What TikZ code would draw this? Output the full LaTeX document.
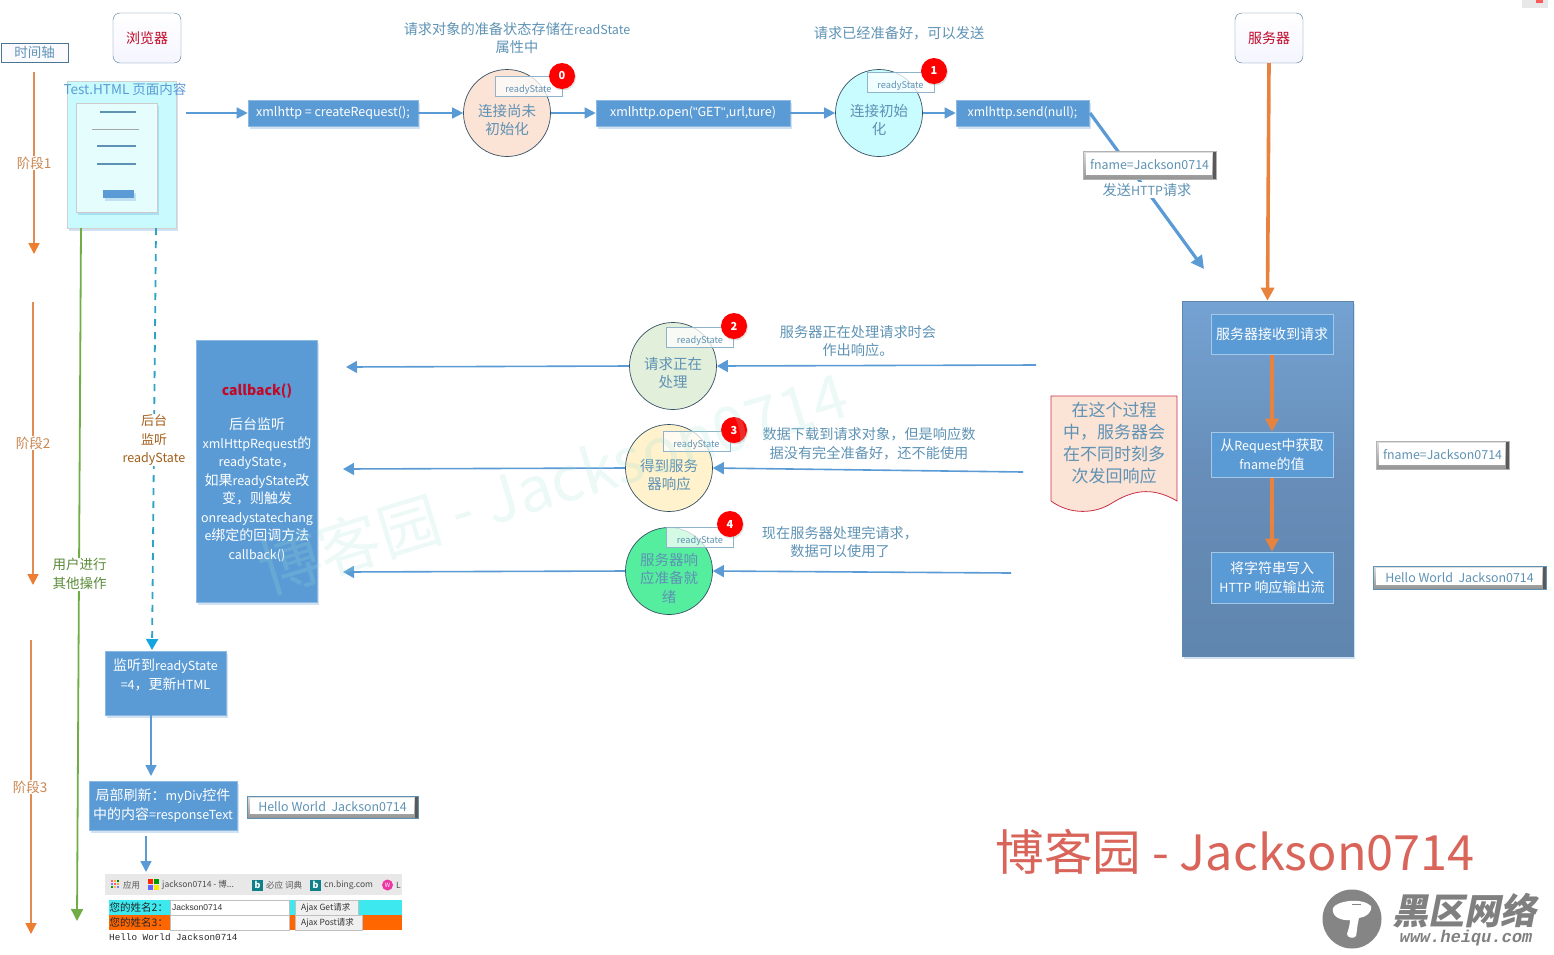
\documentclass[tikz,border=0pt]{standalone}
\usepackage{fontspec}
\setmainfont{Noto Sans CJK SC}
\newfontfamily\monof{Liberation Mono}
\newfontfamily\sansf{Liberation Sans}
\usetikzlibrary{arrows.meta,shadows}
\newcommand\lat[1]{{\fontsize{12.5}{18.5}\selectfont #1}}
\newcommand\rstext{\raisebox{-6.5pt}[0pt][0pt]{readyState}}
\definecolor{bluebox}{HTML}{5B9BD5}
\definecolor{linkblue}{HTML}{5B9BD5}
\definecolor{txtblue}{HTML}{5E92B4}
\definecolor{orangeA}{HTML}{ED7D31}
\definecolor{orangeL}{HTML}{E08D55}
\definecolor{phase}{HTML}{C98650}
\definecolor{greenL}{HTML}{70AD47}
\definecolor{dashB}{HTML}{2FA3C4}
\definecolor{dashT}{HTML}{12A5E0}
\definecolor{wm}{HTML}{9FE0D8}
\definecolor{redtxt}{HTML}{C00A28}
\definecolor{peach}{HTML}{FBE3D6}
\definecolor{paleC}{HTML}{C9FCFF}
\definecolor{paleG}{HTML}{E2EFDA}
\definecolor{paleY}{HTML}{FFF2CC}
\definecolor{mint}{HTML}{55EE9F}
\definecolor{docred}{HTML}{C83048}
\definecolor{sigred}{HTML}{D96459}
\definecolor{pageout}{HTML}{C9FAFD}
\definecolor{pagein}{HTML}{E6FDFE}
\definecolor{srvTop}{HTML}{74A2D2}
\definecolor{srvMid}{HTML}{678DB8}
\definecolor{srvBot}{HTML}{5F86AE}
\definecolor{rowC}{HTML}{3DE8EE}
\definecolor{rowO}{HTML}{FF6600}
\definecolor{tealb}{HTML}{0F8087}
\tikzset{
  softshadow/.style={drop shadow={shadow xshift=1.5pt,shadow yshift=-2.5pt,opacity=.28,fill=bluebox}},
  fs/.style={font=\fontsize{#1}{18.5}\selectfont},
  bluerect/.style={draw=bluebox!70!white,line width=.6pt,fill=bluebox,text=white,align=center,inner sep=0pt,softshadow,fs=14},
  srvrect/.style={draw=white!45!bluebox,line width=1pt,fill=bluebox,text=white,align=center,inner sep=0pt,fs=14},
  headbox/.style={draw=txtblue!80!black,rounded corners=7pt,top color=white,bottom color=blue!4!white,inner sep=0pt,minimum width=68pt,minimum height=50pt,text=redtxt,fs=14},
  statec/.style={circle,draw=black!45!txtblue,line width=.7pt,minimum size=87pt,inner sep=0pt},
  statet/.style={align=center,text=txtblue,inner sep=0pt,fs=14.5},
  rsbox/.style={draw=txtblue!70!white,line width=1pt,fill=white,fill opacity=.75,text opacity=1,text=txtblue,minimum width=67pt,minimum height=20pt,inner sep=0pt,fs=9.2},
  badge/.style={circle,fill=red,text=white,minimum size=26pt,inner sep=0pt,font=\fontsize{11}{11}\selectfont\bfseries,drop shadow={shadow xshift=1pt,shadow yshift=-1.5pt,opacity=.25}},
  note/.style={text=txtblue,align=center,inner sep=0pt,fs=14.2},
  bevel/.style={draw=#1,line width=.6pt,top color=black!12,bottom color=black!42,text=txtblue,inner sep=0pt,fs=12.4,
     path picture={
       \fill[white] ([xshift=3pt,yshift=-2pt]path picture bounding box.north west) rectangle ([xshift=-4pt,yshift=4pt]path picture bounding box.south east);
       \fill[black!65] ([xshift=-3.5pt]path picture bounding box.north east) rectangle (path picture bounding box.south east);}},
  flow/.style={draw=linkblue,line width=1.6pt,-{Triangle[length=11pt,width=11pt]}},
  flowthick/.style={draw=linkblue,line width=3.2pt,-{Triangle[length=13pt,width=13pt]}},
  backflow/.style={draw=linkblue,line width=1.6pt,-{Triangle[length=11pt,width=12pt]}},
  timeline/.style={draw=orangeL,line width=1.8pt,-{Triangle[length=11pt,width=11pt,color=orangeA]}},
  srvarrow/.style={draw=orangeL!40!orangeA,line width=3.6pt,-{Triangle[length=13pt,width=13pt]}},
  phaselabel/.style={fill=white,text=phase,inner sep=1pt,fs=13.5},
}
\begin{document}
\begin{tikzpicture}[x=1pt,y=-1pt]
\useasboundingbox (0,0) rectangle (1554,954);
% corner mark
\fill[black!9] (1522,0) rectangle (1548,8);
\fill[red!65!white] (1536,0) rectangle (1543,2.5);

% header nodes
\node[draw=txtblue!80!black,line width=1pt,fill=blue!2!white,minimum width=67pt,minimum height=19pt,inner sep=0pt,text=txtblue,fs=13.5] (axis) at (34.5,52.5) {时间轴};
\node[headbox] (browser) at (147,38) {浏览器};
\node[headbox] (server) at (1269,38) {服务器};

% time lines
\coordinate (t1a) at (34,72); \coordinate (t1b) at (34,254);
\coordinate (t2a) at (33,302); \coordinate (t2b) at (33,585);
\coordinate (t3a) at (31,640); \coordinate (t3b) at (31,934);
\draw[timeline] (t1a) -- (t1b);
\draw[timeline] (t2a) -- (t2b);
\draw[timeline] (t3a) -- (t3b);
\node[phaselabel] (p1) at (34,163) {阶段1};
\node[phaselabel] (p2) at (33,443) {阶段2};
\node[phaselabel] (p3) at (30,787) {阶段3};

% page
\node[draw=black!18,fill=pageout,minimum width=109pt,minimum height=147pt,inner sep=0pt,softshadow] (page) at (121.5,154.5) {};
\node[draw=black!20,fill=pagein,minimum width=81pt,minimum height=109pt,inner sep=0pt,softshadow] (sheet) at (116.5,157.5) {};
\draw[line width=1.1pt,draw=txtblue] (100,112) -- (136,112);
\draw[line width=.4pt,draw=black!35] (92,129) -- (139,129);
\draw[line width=1.1pt,draw=txtblue] (97,146) -- (136,146);
\draw[line width=1.1pt,draw=txtblue] (97,164) -- (136,164);
\node[fill=bluebox,minimum width=31pt,minimum height=8pt,inner sep=0pt,softshadow] (btn) at (118.5,194) {};
\node[note,text=bluebox,fs=13.5] (pagelabel) at (125,89) {Test.HTML 页面内容};

% long verticals from the page
\coordinate (gA) at (81,228); \coordinate (gB) at (77,921);
\draw[draw=greenL,line width=1.8pt,-{Triangle[length=12pt,width=12pt]}] (gA) -- (gB);
\node[fill=white,text=greenL!80!black,align=center,inner sep=1pt,fs=13.5] (user) at (79.5,574) {用户进行\\其他操作};

% top row
\node[bluerect,fs=12.5,minimum width=170pt,minimum height=26pt] (x1) at (333,113) {xmlhttp = createRequest();};
\node[bluerect,fs=12.5,minimum width=194pt,minimum height=26pt] (x2) at (693,113) {xmlhttp.open({\sansf\char34}GET{\sansf\char34},url,ture)};
\node[bluerect,fs=12.3,minimum width=133pt,minimum height=26pt] (x3) at (1022.5,113) {xmlhttp.send(null);};
\node[statec,fill=peach] (c0) at (507,113) {};
\node[statec,fill=paleC] (c1) at (879,113) {};
\coordinate (a0) at (186,113);
\draw[flow] (a0) -- (x1.west);
\draw[flow] (x1.east) -- (c0.west);
\draw[flow] (c0.east) -- (x2.west);
\draw[flow] (x2.east) -- (c1.west);
\draw[flow] (c1.east) -- (x3.west);
\node[statet] (c0t) at ([yshift=-7pt]c0.center) {连接尚未\\初始化};
\node[statet] (c1t) at ([yshift=-7pt]c1.center) {连接初始\\化};
\node[rsbox] (r0) at (528.5,86) {\rstext};
\node[badge] (b0) at (562,76) {0};
\node[rsbox] (r1) at (900.5,82) {\rstext};
\node[badge] (b1) at (934,71) {1};
\node[note] (n0) at (517,38) {请求对象的准备状态存储在\lat{readState}\\属性中};
\node[note] (n1) at (899,33) {请求已经准备好，可以发送};

% send request
\coordinate (s1) at (1090,113); \coordinate (s2) at (1204,269);
\draw[flowthick] (s1) -- (s2);
\node[bevel=black!30,minimum width=133pt,minimum height=28pt] (f1) at (1149.5,165) {fname=Jackson0714};
\node[fill=white,note,inner sep=1.5pt] (httpl) at (1147,190) {发送\lat{HTTP}请求};

% server
\node[draw=srvBot,line width=.6pt,top color=srvTop,bottom color=srvBot,middle color=srvMid,minimum width=171pt,minimum height=355pt,inner sep=0pt,softshadow] (srv) at (1267.5,478.5) {};
\node[srvrect,minimum width=122pt,minimum height=40pt] (s_a) at (1272,334) {服务器接收到请求};
\node[srvrect,minimum width=122pt,minimum height=45pt] (s_b) at (1272,454.5) {从\lat{Request}中获取\\\lat{fname}的值};
\node[srvrect,minimum width=122pt,minimum height=51pt] (s_c) at (1272,577.5) {将字符串写入\\\lat{HTTP} 响应输出流};
\draw[srvarrow] (server.south) -- (srv.north);
\draw[srvarrow] (s_a.south) -- (s_b.north);
\draw[srvarrow] (s_b.south) -- (s_c.north);
\node[bevel=black!30,minimum width=133pt,minimum height=28pt] (f2) at (1442.5,455) {fname=Jackson0714};
\node[bevel=txtblue,minimum width=173pt,minimum height=23pt] (h1) at (1459.5,577.5) {Hello World\ \ Jackson0714};

% document shape
\path[fill=peach,draw=docred,line width=.8pt]
  (1051,396) -- (1177,396) -- (1177,501) .. controls (1150,485) and (1130,492) .. (1112,503) .. controls (1095,514) and (1070,515) .. (1051,501) -- cycle;
\node[text=txtblue,align=center,inner sep=0pt,font=\fontsize{17}{22}\selectfont] (docn) at (1114,443) {在这个过程\\中，服务器会\\在不同时刻多\\次发回响应};

% states 2-4
\node[statec,fill=paleG] (c2) at (673,366) {};
\node[statec,fill=paleY] (c3) at (669,468) {};
\node[statec,fill=mint] (c4) at (669,571) {};
\coordinate (i2) at (1036,365); \coordinate (o2) at (346,367);
\coordinate (i3) at (1023,472); \coordinate (o3) at (343,469);
\coordinate (i4) at (1011,573); \coordinate (o4) at (343,572);
\draw[backflow] (i2) -- (c2.east);
\draw[backflow] (i3) -- (c3.east);
\draw[backflow] (i4) -- (c4.east);
\draw[backflow] (c2.west) -- (o2);
\draw[backflow] (c3.west) -- (o3);
\draw[backflow] (c4.west) -- (o4);
\node[statet] (c2t) at ([yshift=-7pt]c2.center) {请求正在\\处理};
\node[statet] (c3t) at ([yshift=-7pt]c3.center) {得到服务\\器响应};
\node[statet] (c4t) at ([yshift=-7pt]c4.center) {服务器响\\应准备就\\绪};
\node[rsbox] (r2) at (700,337) {\rstext};
\node[badge] (b2) at (734,326) {2};
\node[rsbox] (r3) at (696.5,441) {\rstext};
\node[badge] (b3) at (734,430) {3};
\node[rsbox] (r4) at (700,537) {\rstext};
\node[badge] (b4) at (730,524) {4};
\node[note] (n2) at (858,341) {服务器正在处理请求时会\\作出响应。};
\node[note] (n3) at (869,443.5) {数据下载到请求对象，但是响应数\\据没有完全准备好，还不能使用};
\node[note] (n4) at (840,542) {现在服务器处理完请求，\\数据可以使用了};

% callback
\node[bluerect,minimum width=121pt,minimum height=262pt] (cb) at (256.5,471) {};
\node[text=redtxt,inner sep=0pt,font=\fontsize{14}{14}\selectfont\bfseries] (cbt) at (257,391) {callback()};
\node[text=white,align=center,inner sep=0pt,font=\fontsize{14}{18.5}\selectfont] (cbb) at (257,490) {后台监听\\\lat{xmlHttpRequest}的\\\lat{readyState}，\\如果\lat{readyState}改\\变，则触发\\\lat{onreadystatechang}\\\lat{e}绑定的回调方法\\\lat{callback()}};

% lower left
\node[bluerect,minimum width=121pt,minimum height=64pt] (u1) at (165.5,683) {};
\node[text=white,align=center,inner sep=0pt,fs=14] (u1t) at (165.5,675) {监听到\lat{readyState}\\\lat{=4}，更新\lat{HTML}};
\node[bluerect,minimum width=148pt,minimum height=49pt] (u2) at (163,805.5) {局部刷新：\lat{myDiv}控件\\中的内容\lat{=responseText}};
\node[bevel=txtblue,minimum width=171pt,minimum height=22pt] (h2) at (332.5,807) {Hello World\ \ Jackson0714};
\coordinate (dA) at (156,228); \coordinate (dB) at (152,650);
\draw[draw=dashB,line width=1.8pt,dash pattern=on 7pt off 6pt,-{Triangle[length=11pt,width=12pt,color=dashT]}] (dA) -- (dB);
\node[fill=white,text=orange!60!black!90,align=center,inner sep=1pt,fs=13] (bg) at (154,440) {后台\\监听\\\lat{readyState}};
\coordinate (u1b) at (151,715); \coordinate (u2t) at (151,776);
\draw[flow] (u1b) -- (u2t);
\coordinate (u2b) at (146,836); \coordinate (shot) at (146,872);
\draw[flow] (u2b) -- (shot);

% screenshot
\fill[black!9] (105,874) rectangle (402,895);
\foreach \px/\py/\cc in {111/880/red!60,114/880/orange!70,117/880/green!50!black,111/883/blue!50,114/883/red!60,117/883/orange!70,111/886/green!60!black,114/886/orange!60,117/886/blue!50}{\fill[\cc] (\px,\py) rectangle ++(2,2);}
\node[anchor=west,inner sep=0pt,text=black!65,font=\fontsize{8.5}{8.5}\selectfont] (t_a) at (123,885) {应用};
\fill[red!70!orange] (148,879) rectangle (153,884);
\fill[green!60!black] (153.5,879) rectangle (159,884);
\fill[blue!60!white] (148,884.5) rectangle (153,890);
\fill[yellow!90!orange] (153.5,884.5) rectangle (159,890);
\node[anchor=west,inner sep=0pt,text=black!70,font=\fontsize{8.5}{8.5}\selectfont] (t_b) at (162,885) {jackson0714 - 博...};
\node[fill=tealb,text=white,minimum size=11pt,inner sep=0pt,anchor=west,font=\fontsize{9}{9}\selectfont\bfseries] (t_c) at (252,885) {b};
\node[anchor=west,inner sep=0pt,text=black!65,font=\fontsize{8.5}{8.5}\selectfont] (t_d) at (266,885) {必应 词典};
\node[fill=tealb,text=white,minimum size=11pt,inner sep=0pt,anchor=west,font=\fontsize{9}{9}\selectfont\bfseries] (t_e) at (310,885) {b};
\node[anchor=west,inner sep=0pt,text=black!70,font=\fontsize{8.5}{8.5}\selectfont] (t_f) at (324,885) {cn.bing.com};
\fill[magenta!80] (387.5,885) circle (5.5);
\node[text=white,inner sep=0pt,font=\fontsize{6}{6}\selectfont] (t_g) at (387.5,885) {W};
\node[anchor=west,inner sep=0pt,text=black!70,font=\fontsize{8.5}{8.5}\selectfont] (t_h) at (396,885) {L};
\fill[rowC] (109,900) rectangle (402,915);
\fill[rowO] (109,915) rectangle (402,930);
\path[fill=white,draw=black!25] (170,900) rectangle (289,915);
\path[fill=white,draw=black!25] (170,915) rectangle (289,930);
\path[fill=black!6,draw=black!25] (295,900) rectangle (358,915);
\path[fill=black!6,draw=black!25] (295,915) rectangle (362,930);
\node[anchor=west,inner sep=0pt,text=black!85,font=\fontsize{10.5}{10.5}\selectfont] (l1) at (109.5,907.5) {您的姓名2：};
\node[anchor=west,inner sep=0pt,text=black!85,font=\fontsize{10.5}{10.5}\selectfont] (l2) at (109.5,922.5) {您的姓名3：};
\node[anchor=west,inner sep=0pt,text=black!80,font=\sansf\fontsize{8.5}{8.5}\selectfont] (l3) at (172,907.5) {Jackson0714};
\node[anchor=west,inner sep=0pt,text=black!80,font=\fontsize{8.5}{8.5}\selectfont] (l4) at (301,907.5) {Ajax Get请求};
\node[anchor=west,inner sep=0pt,text=black!80,font=\fontsize{8.5}{8.5}\selectfont] (l5) at (301,922.5) {Ajax Post请求};
\node[anchor=west,inner sep=0pt,text=black!85,font=\monof\fontsize{9.3}{9.3}\selectfont] (l6) at (109,937) {Hello World Jackson0714};

% big signature
\node[text=sigred,inner sep=0pt,font=\fontsize{48.6}{49}\selectfont] (sig) at (1235,852) {博客园 - Jackson0714};

% site mark
\fill[black!48] (1352,919) circle (29.5);
\fill[white] (1333,908) .. controls (1336,901) and (1362,897) .. (1371,906) .. controls (1372,913) and (1366,917) .. (1359,918) .. controls (1357,925) and (1357,932) .. (1356,936) .. controls (1354,939) and (1347,938) .. (1347,934) .. controls (1349,928) and (1350,923) .. (1350,920) .. controls (1342,921) and (1331,917) .. (1333,908) -- cycle;
\draw[black!48,line width=.8pt] (1352,904) -- (1361,904);
\node[text=black!50,xslant=.2,inner sep=0pt,font=\fontsize{36}{36}\selectfont\bfseries] (hq) at (1467,911) {黑区网络};
\node[text=black!50,xslant=.2,inner sep=0pt,font=\monof\fontsize{17}{17}\selectfont\bfseries] (hqu) at (1466,938) {www.heiqu.com};

% faint watermark over the middle of the drawing
\node[text=wm,text opacity=.2,rotate=17,font=\fontsize{62}{62}\selectfont] (wmark) at (553,482) {博客园 - Jackson0714};
\end{tikzpicture}
\end{document}
